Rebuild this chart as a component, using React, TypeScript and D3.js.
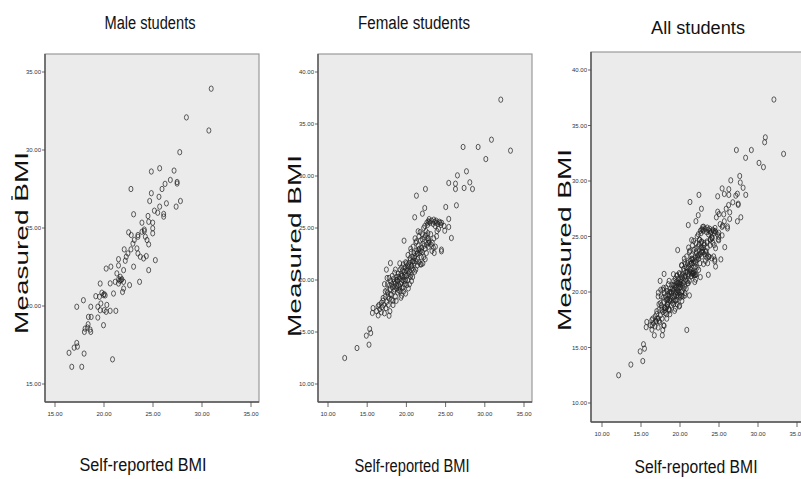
import React from 'react';
import * as d3 from 'd3';

// values: [self-reported BMI, measured BMI]
const male: [number, number][] = [
  [30.94, 33.93], [28.41, 32.09], [30.7, 31.25], [27.73, 29.86], [25.68, 28.83], [24.83, 28.62],
  [27.15, 28.68], [27.46, 27.95], [27.46, 27.85], [26.77, 28.08], [26.23, 27.83], [25.92, 27.5],
  [22.75, 27.5], [24.83, 27.23], [25.61, 27.0], [24.66, 26.73], [27.8, 26.73], [26.37, 26.58],
  [27.36, 26.37], [25.68, 26.37], [25.14, 26.11], [25.48, 25.98], [26.09, 25.9], [26.09, 25.73],
  [23.02, 25.88], [24.49, 25.77], [24.56, 25.4], [23.87, 25.34], [24.97, 25.34], [24.97, 24.98],
  [24.97, 24.66], [24.11, 24.9], [24.11, 24.8], [22.51, 24.72], [22.78, 24.55], [23.46, 24.55],
  [23.46, 24.44], [23.87, 24.76], [24.22, 24.44], [24.39, 24.23], [24.56, 23.95], [23.09, 24.23],
  [22.95, 24.0], [22.06, 23.63], [22.75, 23.63], [22.44, 23.37], [22.27, 23.16], [23.36, 23.69],
  [23.46, 23.37], [23.7, 23.16], [24.32, 23.2], [24.04, 23.05], [22.17, 22.9], [23.02, 22.52],
  [25.24, 22.94], [24.56, 22.3], [21.48, 23.0], [21.48, 22.6], [20.7, 22.52], [20.22, 22.4],
  [21.31, 22.09], [22.0, 22.3], [21.66, 21.87], [21.5, 21.72], [21.62, 21.62], [21.75, 21.66],
  [21.82, 21.72], [21.14, 21.55], [22.0, 21.55], [21.48, 21.44], [22.61, 21.34], [23.63, 21.55],
  [22.0, 21.12], [20.63, 21.45], [19.61, 21.44], [20.97, 20.8], [21.89, 20.9], [20.02, 20.76],
  [19.78, 20.85], [19.95, 20.7], [20.12, 20.68], [19.16, 20.63], [19.54, 20.59], [17.22, 19.95],
  [17.9, 20.37], [18.65, 19.95], [19.37, 19.95], [19.61, 19.73], [20.02, 19.73], [19.37, 19.26],
  [18.41, 19.3], [18.69, 19.3], [20.22, 19.63], [20.63, 19.69], [21.21, 19.69], [19.95, 18.77],
  [18.38, 18.83], [18.31, 18.62], [18.07, 18.55], [18.58, 18.49], [18.0, 18.34], [18.65, 18.34],
  [17.22, 17.63], [16.95, 17.33], [16.43, 17.0], [17.97, 16.95], [17.29, 17.4], [20.87, 16.58],
  [16.71, 16.1], [17.73, 16.1], [20.29, 20.07], [19.68, 20.16],
];

const female: [number, number][] = [
  // spread out points
  [32.04, 37.34], [30.85, 33.49], [33.28, 32.44], [29.15, 32.79], [27.23, 32.79], [30.13, 31.63],
  [27.66, 30.45], [26.51, 30.06], [25.4, 29.33], [26.26, 29.26], [26.26, 28.75], [27.36, 28.85],
  [28.09, 29.39], [28.43, 28.75], [22.43, 28.75], [21.28, 28.11], [26.38, 27.18], [25.02, 27.02],
  [22.34, 26.92], [22.04, 26.38], [21.06, 26.03], [25.4, 25.87], [25.4, 25.1], [25.74, 24.04],
  [24.47, 22.92], [24.47, 22.76], [21.49, 24.68], [21.28, 23.72], [19.7, 23.78], [22.77, 25.64],
  [24.89, 24.74], [21.91, 21.51], [21.06, 20.8], [17.45, 21.0], [17.53, 20.19], [17.96, 21.63],
  [17.02, 18.27], [16.81, 17.8], [15.74, 17.3], [15.66, 16.83], [16.38, 17.46], [17.79, 16.57],
  [15.32, 15.29], [15.45, 14.9], [14.89, 14.65], [15.23, 13.78], [13.7, 13.46], [12.13, 12.5],
  // dense band
  [16.2, 17.0], [16.5, 17.6], [16.8, 16.9], [16.4, 16.6], [16.9, 17.4], [17.0, 18.0], [16.6, 17.2],
  [17.2, 16.8], [17.1, 17.6], [17.3, 18.4], [17.5, 17.9], [17.6, 18.8], [17.8, 18.2], [17.4, 17.3],
  [17.9, 19.1], [17.7, 17.6], [17.2, 19.6], [17.5, 19.0], [17.9, 17.0], [17.6, 19.6], [17.8, 20.2],
  [17.3, 18.9], [17.95, 18.6], [18.1, 18.6], [18.2, 19.3], [18.3, 18.0], [18.4, 19.8], [18.5, 19.1],
  [18.6, 18.4], [18.7, 20.0], [18.8, 19.4], [18.9, 18.8], [18.2, 20.4], [18.5, 20.7], [18.0, 19.9],
  [18.3, 17.6], [18.6, 19.7], [18.8, 20.3], [18.4, 18.9], [18.9, 19.9], [18.7, 18.0], [18.1, 18.1],
  [18.6, 21.0], [18.95, 20.6], [19.0, 19.5], [19.1, 20.1], [19.2, 18.9], [19.3, 20.6], [19.4, 19.8],
  [19.5, 20.9], [19.6, 19.3], [19.7, 20.3], [19.8, 21.2], [19.9, 20.0], [19.2, 21.0], [19.4, 18.5],
  [19.6, 21.5], [19.8, 19.6], [19.05, 19.0], [19.35, 20.4], [19.55, 20.0], [19.75, 20.8],
  [19.9, 21.7], [19.15, 21.6], [19.45, 19.2], [19.65, 18.9], [19.85, 20.5], [19.3, 18.3],
  [19.9, 18.7], [20.0, 20.4], [20.1, 21.1], [20.2, 20.0], [20.3, 21.6], [20.4, 20.8], [20.5, 21.9],
  [20.6, 20.5], [20.7, 21.4], [20.8, 22.2], [20.9, 21.0], [20.2, 22.4], [20.4, 19.6], [20.6, 22.7],
  [20.8, 20.3], [20.05, 19.5], [20.35, 21.3], [20.55, 23.0], [20.75, 21.8], [20.95, 22.6],
  [20.15, 20.9], [20.45, 22.1], [20.65, 19.9], [20.85, 23.2], [20.25, 19.2], [21.0, 21.6],
  [21.1, 22.3], [21.2, 21.0], [21.3, 22.8], [21.4, 22.0], [21.5, 23.3], [21.6, 21.7], [21.7, 22.6],
  [21.8, 23.8], [21.9, 22.2], [21.2, 23.6], [21.4, 21.4], [21.6, 24.2], [21.8, 21.5], [21.35, 22.5],
  [21.55, 22.9], [21.75, 24.6], [21.95, 23.1], [21.1, 24.0], [22.0, 22.7], [22.1, 23.5],
  [22.2, 22.2], [22.3, 24.1], [22.4, 23.0], [22.5, 24.7], [22.6, 23.4], [22.7, 25.3], [22.8, 24.0],
  [22.9, 25.6], [22.2, 25.0], [22.4, 22.0], [22.6, 25.5], [22.8, 23.2], [22.05, 24.4], [22.35, 25.2],
  [22.55, 22.6], [22.75, 24.5], [22.95, 23.6], [22.1, 21.6], [22.77, 23.56], [22.85, 23.8],
  [23.0, 25.5], [23.1, 24.4], [23.2, 25.7], [23.3, 23.6], [23.4, 25.4], [23.5, 24.0], [23.6, 25.6],
  [23.7, 23.2], [23.8, 25.5], [23.9, 24.7], [24.0, 25.4], [24.2, 25.6], [24.4, 25.3], [23.25, 22.8],
  [23.45, 23.1], [23.65, 25.2], [23.85, 24.2], [24.1, 24.9], [24.3, 25.5], [23.55, 22.6],
  [23.15, 23.4], [23.5, 25.8], [23.8, 25.7], [24.5, 25.5], [24.8, 25.2], [22.9, 25.85],
  // more of the crowded middle
  [18.45, 19.4], [18.75, 19.2], [18.85, 20.0], [19.05, 20.3], [19.25, 19.6], [19.5, 20.4],
  [19.7, 19.9], [19.95, 20.9], [20.15, 21.4], [20.3, 20.6], [20.5, 20.3], [20.7, 21.1],
  [20.9, 21.8], [21.05, 22.1], [21.25, 21.8], [21.45, 22.6], [21.65, 23.0], [21.85, 22.8],
  [22.05, 23.9], [22.25, 23.3], [22.45, 24.3], [22.65, 24.0], [18.15, 19.6], [18.35, 20.1],
  [17.65, 18.4], [17.85, 19.5], [19.15, 19.3], [19.4, 21.2], [20.0, 21.6], [20.6, 21.3],
];

const all = male.concat(female);

const titles = ['Male students', 'Female students', 'All students'];
const xTitle = 'Self-reported BMI';
const yTitle = 'Measured BMI';
const maleTicks = [15, 20, 25, 30, 35];
const femaleXTicks = [10, 15, 20, 25, 30, 35];
const femaleYTicks = [10, 15, 20, 25, 30, 35, 40];

const fmt = d3.format('.2f');
const narrow = '"Liberation Sans Narrow", "Arial Narrow", "Liberation Sans", sans-serif';

const panels = [
  {
    title: titles[0], data: male, xTicks: maleTicks, yTicks: maleTicks,
    x: d3.scaleLinear().domain([15, 35]).range([55, 251]),
    y: d3.scaleLinear().domain([15, 35]).range([384, 72]),
    frame: { l: 45, t: 54, r: 259, b: 402 },
    titlePos: [150, 29, 91], xTitlePos: [143, 471, 127], yTitlePos: [21, 243],
    tickLabelY: 416,
  },
  {
    title: titles[1], data: female, xTicks: femaleXTicks, yTicks: femaleYTicks,
    x: d3.scaleLinear().domain([10, 35]).range([328, 524]),
    y: d3.scaleLinear().domain([10, 40]).range([384, 72]),
    frame: { l: 318, t: 54, r: 532, b: 402 },
    titlePos: [414, 29, 112], xTitlePos: [412, 472, 115], yTitlePos: [294, 246],
    tickLabelY: 416,
  },
  {
    title: titles[2], data: all, xTicks: femaleXTicks, yTicks: femaleYTicks,
    x: d3.scaleLinear().domain([10, 35]).range([602, 797]),
    y: d3.scaleLinear().domain([10, 40]).range([403, 70]),
    frame: { l: 591, t: 52, r: 806, b: 422 },
    titlePos: [698, 34, 94], xTitlePos: [696, 473, 123], yTitlePos: [564, 240],
    tickLabelY: 436,
  },
];

export default function App() {
  return (
    <svg width={801} height={479} style={{ position: 'absolute', left: 0, top: 0, background: '#fff' }}>
      {panels.map((p, i) => {
        const f = p.frame;
        return (
          <g key={i}>
            <text x={p.titlePos[0]} y={p.titlePos[1]} textAnchor="middle" fontFamily={narrow}
              fontSize={18} fill="#111" textLength={p.titlePos[2]} lengthAdjust="spacingAndGlyphs">
              {p.title}
            </text>
            <rect x={f.l} y={f.t} width={f.r - f.l} height={f.b - f.t} fill="#ebebeb" stroke="#9a9a9a" strokeWidth={1.2} />
            <line x1={f.l} x2={f.l} y1={f.t} y2={f.b} stroke="#555" strokeWidth={1.4} />
            <line x1={f.l} x2={f.r} y1={f.b} y2={f.b} stroke="#555" strokeWidth={1.4} />
            {p.yTicks.map(t => (
              <g key={'y' + t}>
                <line x1={f.l - 3} x2={f.l} y1={p.y(t)} y2={p.y(t)} stroke="#444" strokeWidth={0.8} />
                <text x={f.l - 4} y={p.y(t) + 2} textAnchor="end" fontFamily={narrow} fontSize={6} fill="#333">
                  {fmt(t)}
                </text>
              </g>
            ))}
            {p.xTicks.map(t => (
              <g key={'x' + t}>
                <line x1={p.x(t)} x2={p.x(t)} y1={f.b} y2={f.b + 5} stroke="#444" strokeWidth={0.8} />
                <text x={p.x(t)} y={p.tickLabelY} textAnchor="middle" fontFamily={narrow} fontSize={6} fill="#333">
                  {fmt(t)}
                </text>
              </g>
            ))}
            {p.data.map((d, j) => (
              <ellipse key={j} cx={p.x(d[0])} cy={p.y(d[1])} rx={2} ry={2.7}
                fill="none" stroke="#222" strokeWidth={0.85} strokeOpacity={0.85} />
            ))}
            <text x={p.xTitlePos[0]} y={p.xTitlePos[1]} textAnchor="middle" fontFamily={narrow}
              fontSize={18} fill="#111" textLength={p.xTitlePos[2]} lengthAdjust="spacingAndGlyphs">
              {xTitle}
            </text>
            <text transform={`translate(${p.yTitlePos[0]},${p.yTitlePos[1]}) rotate(-90)`} dy="0.35em"
              textAnchor="middle" fontFamily="Arial, 'Liberation Sans', sans-serif" fontSize={19}
              fill="#111" textLength={182} lengthAdjust="spacingAndGlyphs">
              {yTitle}
            </text>
          </g>
        );
      })}
      <rect x={11} y={196} width={2} height={4} fill="#4a6fa5" />
    </svg>
  );
}
